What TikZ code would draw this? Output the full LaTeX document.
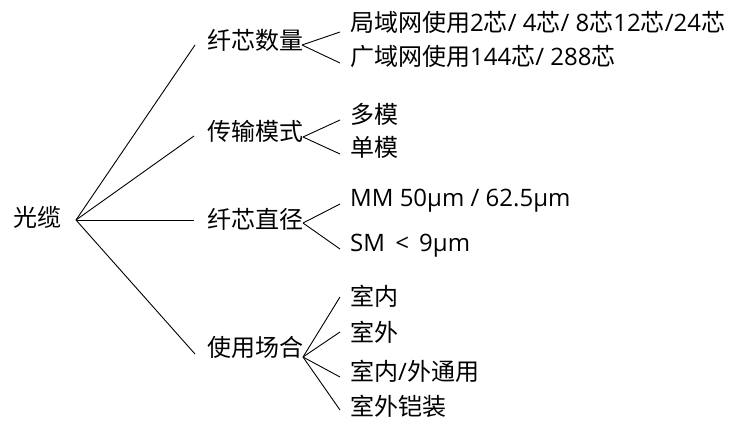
\documentclass[tikz,border=0pt]{standalone}
\usepackage{fontspec}
\setmainfont{Noto Sans CJK SC}
\newfontfamily\lf{Open Sans}
\begin{document}
\begin{tikzpicture}[x=1bp,y=-1bp,
  lbl/.style={anchor=west,inner sep=0pt,font=\fontsize{24bp}{28bp}\selectfont,text height=0.80em,text depth=0.12em},
  conn/.style={draw=black,line width=0.9bp}]
\useasboundingbox (0,0) rectangle (739,427);
% root
\node[lbl] (root) at (13,223) {光缆};
\coordinate (j0) at (76,220);
% level 1
\node[lbl] (a) at (207,46) {纤芯数量};
\node[lbl] (b) at (207,137) {传输模式};
\node[lbl] (c) at (207,225) {纤芯直径};
\node[lbl] (d) at (207,353) {使用场合};
\coordinate (ae) at (195,45);
\coordinate (be) at (194,136);
\coordinate (ce) at (194,220);
\coordinate (de) at (195,354);
\coordinate (ja) at (302,45);
\coordinate (jb) at (303,137);
\coordinate (jc) at (303,223);
\coordinate (jd) at (303,357);
% level 2
\node[lbl] (a1) at (350,28) {局域网使用{\lf 2}芯{\lf / 4}芯{\lf / 8}芯{\lf 12}芯{\lf /24}芯};
\node[lbl] (a2) at (350,62) {广域网使用{\lf 144}芯{\lf / 288}芯};
\node[lbl] (b1) at (350,120) {多模};
\node[lbl] (b2) at (350,153) {单模};
\node[lbl] (c1) at (350,203) {\lf MM 50μm / 62.5μm};
\node[lbl] (c2) at (350,248) {\lf SM \,<\, 9μm};
\node[lbl] (d1) at (350,302) {室内};
\node[lbl] (d2) at (350,338) {室外};
\node[lbl] (d3) at (350,377) {室内{\lf /}外通用};
\node[lbl] (d4) at (350,412) {室外铠装};
\coordinate (a1e) at (340,32);
\coordinate (a2e) at (340,63);
\coordinate (b1e) at (340,120);
\coordinate (b2e) at (340,154);
\coordinate (c1e) at (340,204);
\coordinate (c2e) at (340,249);
\coordinate (d1e) at (340,297);
\coordinate (d2e) at (340,332);
\coordinate (d3e) at (340,377);
\coordinate (d4e) at (340,410);
% connectors
\draw[conn] (j0) -- (ae);
\draw[conn] (j0) -- (be);
\draw[conn] (j0) -- (ce);
\draw[conn] (j0) -- (de);
\draw[conn] (ja) -- (a1e);
\draw[conn] (ja) -- (a2e);
\draw[conn] (jb) -- (b1e);
\draw[conn] (jb) -- (b2e);
\draw[conn] (jc) -- (c1e);
\draw[conn] (jc) -- (c2e);
\draw[conn] (jd) -- (d1e);
\draw[conn] (jd) -- (d2e);
\draw[conn] (jd) -- (d3e);
\draw[conn] (jd) -- (d4e);
\end{tikzpicture}
\end{document}
